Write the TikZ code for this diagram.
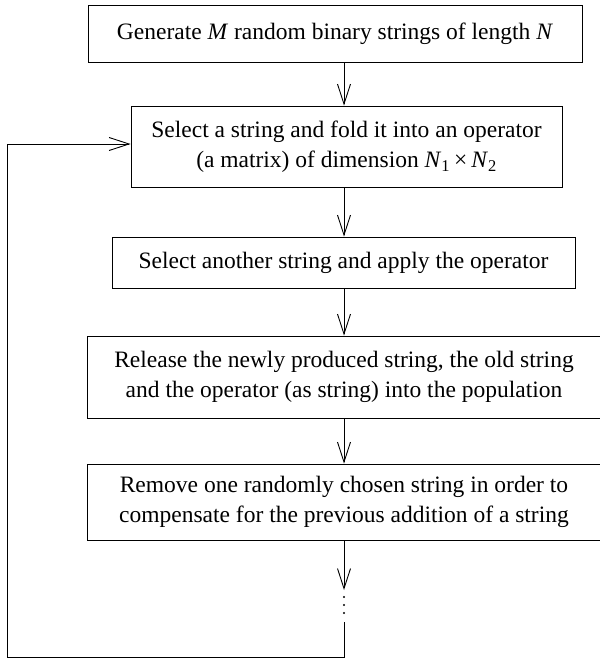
\documentclass[tikz,border=0pt]{standalone}
\usepackage{fontspec}
\setmainfont{Liberation Serif}
\usetikzlibrary{arrows.meta}
\begin{document}
\begin{tikzpicture}[x=1pt,y=-1pt,
  flowbox/.style={draw, line width=0.9pt, inner sep=0pt, align=center,
    font=\fontsize{23.5}{30}\selectfont},
  flowline/.style={line width=0.9pt},
  flowarrow/.style={line width=0.9pt, -{Straight Barb[length=20pt,width=13pt,line width=0.9pt]}}]
\useasboundingbox (0,0) rectangle (599,660);
\node[flowbox, minimum width=494pt, minimum height=57pt] (b1) at (335,33.5)
  {Generate \textit{M} random binary strings of length \textit{N}};
\node[flowbox, minimum width=431pt, minimum height=81pt] (b2) at (346.5,146.5)
  {Select a string and fold it into an operator\\(a matrix) of dimension \textit{N}\textsubscript{1}\,×\,\textit{N}\textsubscript{2}};
\node[flowbox, minimum width=463pt, minimum height=51pt] (b3) at (343.5,262.5)
  {Select another string and apply the operator};
\node[flowbox, minimum width=514pt, minimum height=82pt] (b4) at (344,377)
  {Release the newly produced string, the old string\\and the operator (as string) into the population};
\node[flowbox, minimum width=514pt, minimum height=76pt] (b5) at (344,502)
  {Remove one randomly chosen string in order to\\compensate for the previous addition of a string};
\coordinate (t1) at (344,590);
\coordinate (l1) at (344,622);
\coordinate (c1) at (344,657);
\coordinate (c2) at (7,657);
\coordinate (c3) at (7,144);
\draw[flowarrow] (b1.south -| 344,0) -- (b2.north -| 344,0);
\draw[flowarrow] (b2.south -| 344,0) -- (b3.north -| 344,0);
\draw[flowarrow] (b3.south -| 344,0) -- (b4.north -| 344,0);
\draw[flowarrow] (b4.south -| 344,0) -- (b5.north -| 344,0);
\draw[flowarrow] (b5.south -| 344,0) -- (t1);
\foreach \yy in {597,605,613} \fill (344,\yy) circle (1.1pt);
\draw[flowline] (l1) -- (c1) -- (c2) -- (c3);
\draw[flowarrow] (c3) -- (b2.west |- c3);
\end{tikzpicture}
\end{document}
